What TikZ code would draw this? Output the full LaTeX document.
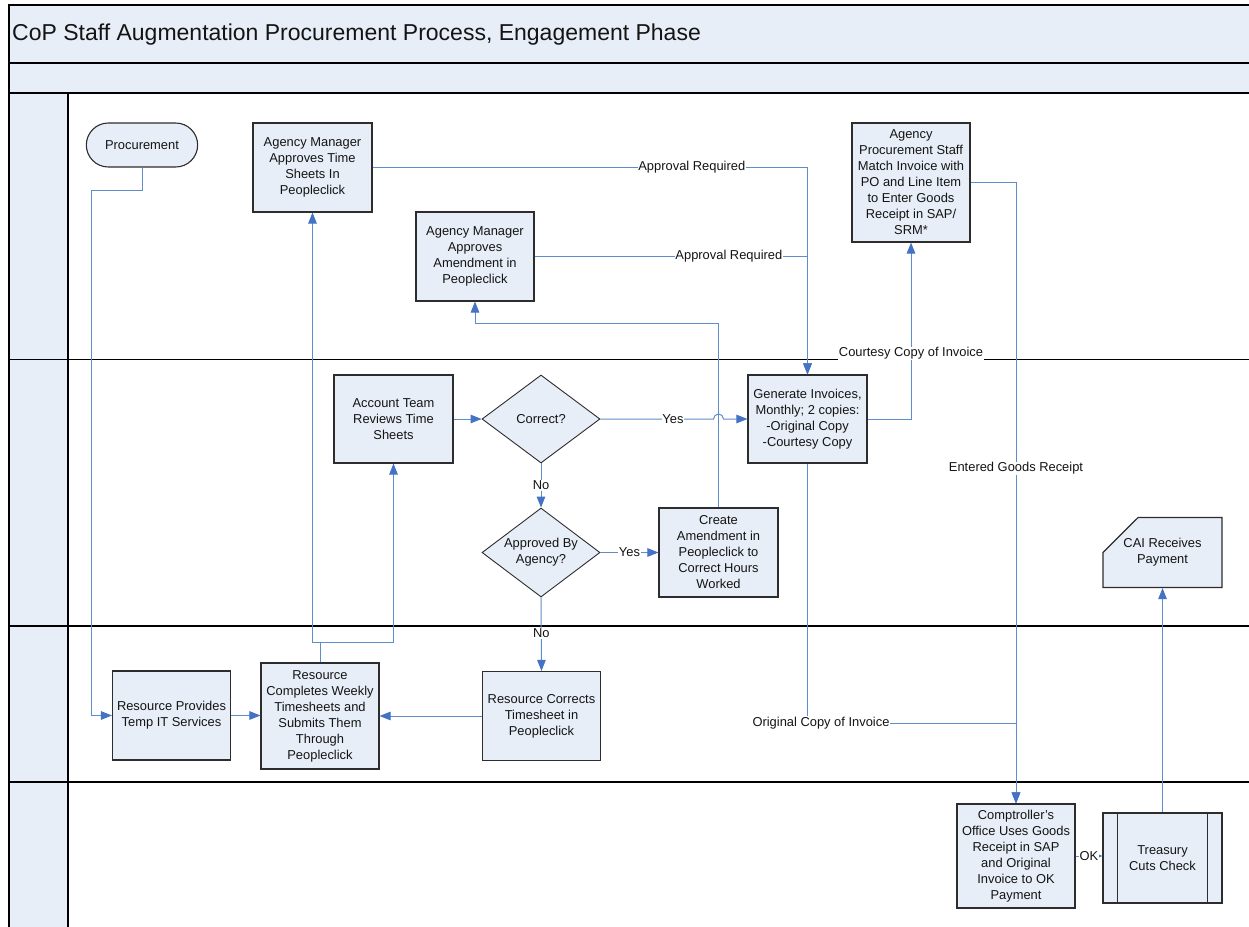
\documentclass[tikz,border=0pt]{standalone}
\usepackage{fontspec}
\setmainfont{Liberation Sans}
\usetikzlibrary{shapes.geometric,shapes.misc,arrows.meta,calc}
\definecolor{paleblue}{RGB}{232,238,247}
\definecolor{flowblue}{RGB}{95,140,205}
\definecolor{tipblue}{RGB}{68,114,196}
\definecolor{edgegray}{RGB}{45,45,45}

\begin{document}
\begin{tikzpicture}[x=1pt,y=-1pt,
  every node/.style={font=\fontsize{12.9}{16}\selectfont, text=black!92},
  stepbox/.style={draw=edgegray, line width=1.1pt, fill=paleblue, minimum width=119, minimum height=89, inner sep=1pt, align=center},
  decision/.style={shape=diamond, draw=edgegray, line width=0.9pt, fill=paleblue, minimum width=118, minimum height=88, inner sep=0pt, aspect=1.34, align=center},
  terminal/.style={shape=rounded rectangle, draw=edgegray, line width=1.1pt, fill=paleblue, minimum width=118, minimum height=44, align=center},
  flow/.style={draw=flowblue, line width=1pt, -{Triangle[length=11pt,width=8.5pt,color=tipblue]}},
  lbl/.style={fill=white, inner sep=0.6pt},
  laneline/.style={draw=black, line width=1.1pt},
]
\useasboundingbox (0,0) rectangle (1249,926);
\clip (0,0) rectangle (1249,926);

% pool frame, title bar and lane headers
\fill[white] (0,0) rectangle (1249,926);
\draw[laneline, fill=paleblue] (9,5) rectangle (1260,63);
\draw[laneline, fill=paleblue] (9,63) rectangle (1260,93);
\draw[laneline, fill=paleblue] (9,93) rectangle (68,940);
\draw[laneline] (9,359.5) -- (1260,359.5);
\draw[laneline] (9,626) -- (1260,626);
\draw[laneline] (9,782) -- (1260,782);
\node[anchor=west, font=\fontsize{23}{27}\selectfont, inner sep=0pt] (title) at (12,35) {CoP Staff Augmentation Procurement Process, Engagement Phase};

% steps
\node[terminal] (proc) at (142,145) {Procurement};
\node[stepbox] (amts) at (312.5,167.5) {Agency Manager\\Approves Time\\Sheets In\\Peopleclick};
\node[stepbox, minimum width=118] (amam) at (475,256.5) {Agency Manager\\Approves\\Amendment in\\Peopleclick};
\node[stepbox, minimum width=118, minimum height=119] (apsm) at (911,182.5) {Agency\\Procurement Staff\\Match Invoice with\\PO and Line Item\\to Enter Goods\\Receipt in SAP/\\SRM*};
\node[stepbox, minimum height=88] (atr) at (393.5,419) {Account Team\\Reviews Time\\Sheets};
\node[decision] (corr) at (541,419) {Correct?};
\node[stepbox, minimum height=88] (gen) at (807.5,419) {Generate Invoices,\\Monthly; 2 copies:\\-Original Copy\\-Courtesy Copy};
\node[decision, minimum height=89] (apa) at (541,552.5) {Approved By\\Agency?};
\node[stepbox] (cam) at (718.5,552.5) {Create\\Amendment in\\Peopleclick to\\Correct Hours\\Worked};
\node[stepbox, minimum width=118] (rpt) at (171.5,715.5) {Resource Provides\\Temp IT Services};
\node[stepbox, minimum width=118, minimum height=106] (rcw) at (320,716) {Resource\\Completes Weekly\\Timesheets and\\Submits Them\\Through\\Peopleclick};
\node[stepbox, minimum width=118] (rct) at (541.5,716) {Resource Corrects\\Timesheet in\\Peopleclick};
\node[stepbox, minimum width=118, minimum height=104] (cmp) at (1016,856) {Comptroller’s\\Office Uses Goods\\Receipt in SAP\\and Original\\Invoice to OK\\Payment};
\node[stepbox, minimum height=90] (tre) at (1162.5,858) {Treasury\\Cuts Check};
\draw[edgegray, line width=1.1pt] ($(tre.north west)+(15,0)$) -- ($(tre.south west)+(15,0)$);
\draw[edgegray, line width=1.1pt] ($(tre.north east)+(-15,0)$) -- ($(tre.south east)+(-15,0)$);
\node[stepbox, minimum height=59, shape=chamfered rectangle, chamfered rectangle corners=north west, chamfered rectangle xsep=19pt, chamfered rectangle ysep=20pt] (cai) at (1162.5,552.5) {CAI Receives\\Payment};

% bend points
\coordinate (pbend) at (91,190);
\coordinate (abend) at (718.5,323);
\coordinate (obend) at (1016,723);

% connectors
\draw[flow] (proc.south) -- (proc.south |- pbend) -- (pbend) |- (rpt.west);
\draw[flow] (rpt.east) -- (rcw.west |- rpt.east);
\draw[flow] (rcw.north) -- ++(0,-20) -| (amts.south);
\draw[flow] (rcw.north) -- ++(0,-20) -| (atr.south);
\draw[flow] (atr.east) -- (corr.west);
\draw[flow] (corr.east) -- (713.5,419) arc[start angle=180, end angle=360, radius=5] -- (gen.west);
\node[lbl] at (673,419) {Yes};
\draw[flow] (corr.south) -- node[lbl] {No} (apa.north);
\draw[flow] (apa.east) -- node[lbl] {Yes} (cam.west);
\draw[flow] (apa.south) -- node[lbl, pos=0.49] {No} (rct.north);
\draw[flow] (rct.west) -- (rcw.east |- rct.west);
\draw[flow] (cam.north) -- (abend) -| (amam.south);
\draw[flow] (amts.east) -| node[lbl, pos=0.367] {Approval Required} (gen.north);
\draw[flow] (amam.east) -| node[lbl, pos=0.356] {Approval Required} (gen.north);
\draw[flow] (gen.east) -| node[lbl, pos=0.686] {Courtesy Copy of Invoice} (apsm.south);
\draw[flow] (apsm.east) -| node[lbl, pos=0.73] {Entered Goods Receipt} (cmp.north);
\draw[flow] (gen.south) |- (obend) -- (cmp.north);
\node[lbl] at ($(gen.south |- obend)+(13.5,0)$) {Original Copy of Invoice};
\draw[flow] (cmp.east) -- node[lbl] {OK} (tre.west |- cmp.east);
\draw[flow] (tre.north) -- (cai.south);
\end{tikzpicture}
\end{document}
